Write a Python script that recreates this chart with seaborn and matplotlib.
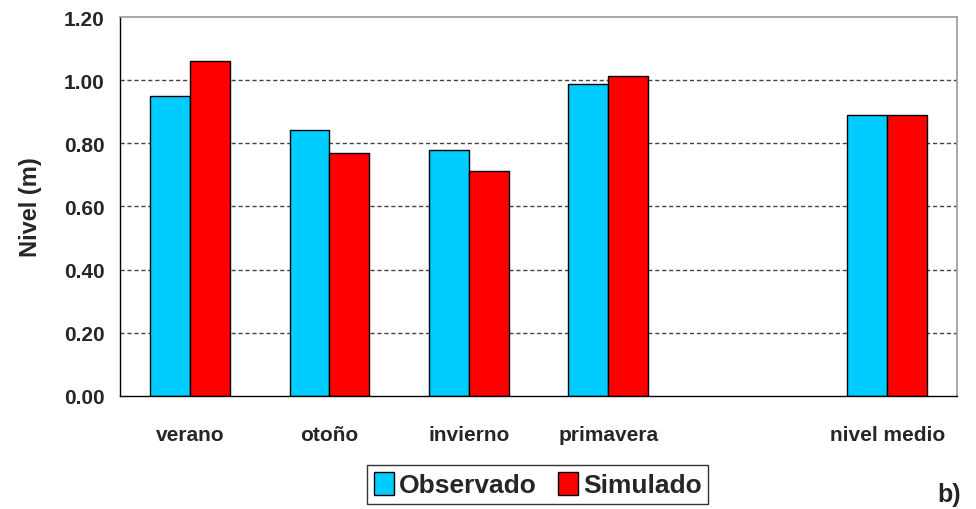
import numpy as np
import pandas as pd
import matplotlib
matplotlib.use("Agg")
import matplotlib.pyplot as plt
import seaborn as sns

# datos
estaciones = ["verano", "otoño", "invierno", "primavera", "", "nivel medio"]
observado = [0.95, 0.843, 0.778, 0.988, np.nan, 0.889]
simulado = [1.062, 0.769, 0.712, 1.014, np.nan, 0.889]
series = ["Observado", "Simulado"]
colores = ["#00CCFF", "#FF0000"]
yticks = [0.0, 0.2, 0.4, 0.6, 0.8, 1.0, 1.2]

sns.set_style("white")
plt.rcParams["font.family"] = ["Liberation Sans", "DejaVu Sans"]
plt.rcParams["font.weight"] = "bold"

df = pd.DataFrame({
    "estacion": estaciones * 2,
    "nivel": observado + simulado,
    "serie": [series[0]] * len(estaciones) + [series[1]] * len(estaciones),
})

fig = plt.figure(figsize=(9.76, 5.10), dpi=100)
ax = fig.add_axes([0.123, 0.2216, 0.8575, 0.7431])

sns.barplot(data=df, x="estacion", y="nivel", hue="serie", order=estaciones,
            hue_order=series, palette=colores, width=0.57, gap=0,
            edgecolor="black", linewidth=1, saturation=1, ax=ax, legend=True)

ax.set_ylim(0, 1.2)
ax.set_xlim(-0.5, len(estaciones) - 0.5)
ax.set_yticks(yticks)
ax.set_yticklabels([f"{v:.2f}" for v in yticks], fontsize=15, fontweight="bold")
ax.set_xticks(range(len(estaciones)))
ax.set_xticklabels(estaciones, fontsize=15, fontweight="bold")
ax.tick_params(axis="x", which="major", length=0, pad=21)
ax.set_xticks(np.arange(-0.5, len(estaciones)), minor=True)
ax.tick_params(axis="x", which="minor", length=8, width=1, color="black", direction="out")
ax.tick_params(axis="y", length=6, width=1, color="black", direction="out", pad=5)
ax.set_xlabel("")
ax.set_ylabel("Nivel (m)", fontsize=17, fontweight="bold", labelpad=16)

for v in yticks[1:-1]:
    ax.axhline(v, color="#444444", linestyle=(0, (3, 2)), linewidth=1, zorder=0)

for s in ["left", "bottom"]:
    ax.spines[s].set_color("black")
    ax.spines[s].set_linewidth(1)
for s in ["top", "right"]:
    ax.spines[s].set_color("#999999")
    ax.spines[s].set_linewidth(1.2)

handles, labels = ax.get_legend_handles_labels()
ax.get_legend().remove()
leg = fig.legend(handles, labels, loc="center", bbox_to_anchor=(0.551, 0.048), ncol=2,
                 frameon=True, fancybox=False, prop={"size": 19, "weight": "bold"},
                 handlelength=0.75, handleheight=1.0, handletextpad=0.2,
                 columnspacing=0.8, borderpad=0.25, borderaxespad=0)
leg.get_frame().set_edgecolor("black")
leg.get_frame().set_linewidth(1)

fig.text(0.973, 0.03, "b)", fontsize=18, fontweight="bold", ha="center", va="center")

fig.savefig("out.png", dpi=100)
